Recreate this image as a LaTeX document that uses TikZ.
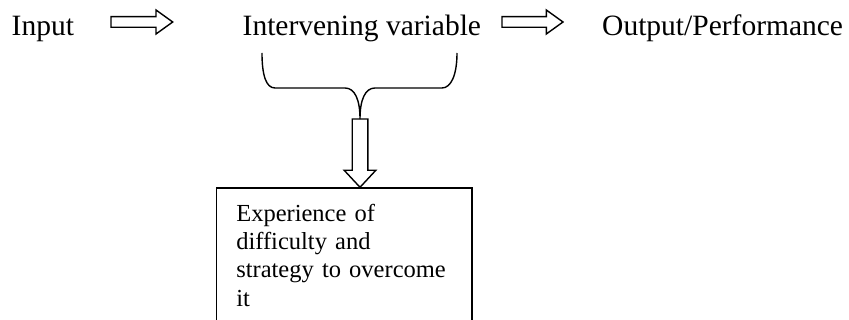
\documentclass[tikz,border=0pt]{standalone}
\usepackage{fontspec}
\setmainfont{Liberation Serif}
\usetikzlibrary{calc}

\begin{document}
\begin{tikzpicture}
                [x=1pt, y=-1pt,
                  line width=1.4pt,
                  every node/.style={inner sep=0pt, font=\fontsize{29.5}{34}\selectfont},
                  stage/.style={anchor=base west},
                  hollow arrow/.style n args={3}{to path={
                    ($(\tikztostart)!#1!90:(\tikztotarget)$)
                    -- ($(\tikztotarget)!#3!(\tikztostart)!#1!90:(\tikztotarget)$)
                    -- ($(\tikztotarget)!#3!(\tikztostart)!#2!90:(\tikztotarget)$)
                    -- (\tikztotarget)
                    -- ($(\tikztotarget)!#3!(\tikztostart)!#2!-90:(\tikztotarget)$)
                    -- ($(\tikztotarget)!#3!(\tikztostart)!#1!-90:(\tikztotarget)$)
                    -- ($(\tikztostart)!#1!-90:(\tikztotarget)$) -- cycle}},
                  notebox/.style={draw, anchor=north west, align=left,
                    text width=216pt, inner xsep=19.8pt, inner ysep=16pt,
                    font=\fontsize{24.5}{28.33}\selectfont},
                ]
                \useasboundingbox (0,0) rectangle (849,320);
                \clip (0,0) rectangle (849,320);
                % the three stages
                \node [stage] (input) at (11,36) {Input};
                \node [stage] (inter) at (242,36) {Intervening variable};
                \node [stage] (output) at (601.5,36) {Output/Performance};
                \coordinate (arr1s) at (111,22);
                \coordinate (arr1e) at (172.7,22);
                \coordinate (arr2s) at (502,22);
                \coordinate (arr2e) at (563,22);
                \draw [hollow arrow={5.3pt}{12pt}{16.7pt}] (arr1s) to (arr1e);
                \draw [hollow arrow={5.3pt}{12pt}{16.7pt}] (arr2s) to (arr2e);
                % brace under the intervening variable
                \coordinate (bl) at (262,53);
                \coordinate (br) at (457,53);
                \coordinate (tip) at (360,119);
                \draw (bl) .. controls (262,75) and (266,88) .. (275,88) -- (345,88)
                      .. controls (355,88) and (360,100) .. (tip)
                      .. controls (360,100) and (365,88) .. (375,88) -- (442,88)
                      .. controls (451,88) and (457,75) .. (br);
                \node [notebox] (box) at (215.8,187.3)
                  {Experience of\\ difficulty and\\ strategy to overcome\\ it};
                \coordinate (dn) at (tip |- box.north);
                \draw [hollow arrow={7.8pt}{15.8pt}{17pt}] (tip) to (dn);
\end{tikzpicture}
\end{document}
